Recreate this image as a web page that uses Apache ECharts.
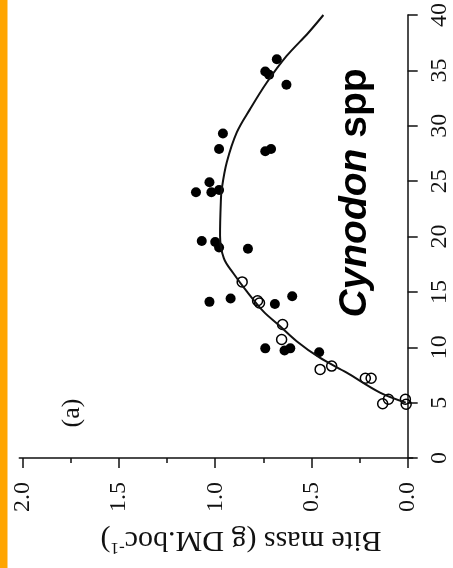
<!DOCTYPE html>
<html>
<head>
<meta charset="utf-8">
<script src="https://cdn.jsdelivr.net/npm/echarts@6/dist/echarts.min.js"></script>
<style>
  html, body { margin: 0; padding: 0; background: #fff; }
  #chart { width: 453px; height: 568px; }
</style>
</head>
<body>
<div id="chart"></div>
<script>
// Bite mass (g DM per bite) against sward height, Cynodon spp, panel (a)
const heightTicks = [0, 5, 10, 15, 20, 25, 30, 35, 40];
const massLabelTicks = [0, 0.5, 1.0, 1.5, 2.0];
const massMinorTicks = [0.25, 0.75, 1.25, 1.75];

// filled circles
const filledHeight = [36.0, 34.9, 34.6, 33.7, 29.3, 27.9, 27.7, 27.9, 24.9, 24.0, 24.0, 24.2,
  19.6, 19.5, 19.0, 18.9, 14.1, 14.4, 13.9, 14.6, 9.9, 9.7, 9.9, 9.55];
const filledMass = [0.68, 0.74, 0.72, 0.63, 0.96, 0.98, 0.74, 0.71, 1.03, 1.10, 1.02, 0.98,
  1.07, 1.00, 0.98, 0.83, 1.03, 0.92, 0.69, 0.60, 0.74, 0.64, 0.61, 0.46];

// open circles
const openHeight = [15.9, 14.2, 14.0, 12.05, 10.7, 8.0, 8.3, 7.2, 7.2, 4.9, 5.3, 5.3, 4.85];
const openMass = [0.86, 0.78, 0.77, 0.65, 0.655, 0.455, 0.395, 0.22, 0.19, 0.13, 0.10, 0.012, 0.008];

// fitted response curve
const curveHeight = [5.0, 5.9, 7.7, 9.1, 10.55, 11.9, 13.24, 15.04, 16.68, 18.02, 20.1, 23.1,
  24.3, 26.7, 29.4, 31.5, 33.9, 36.3, 38.4, 40.0];
const curveMass = [0.01, 0.144, 0.317, 0.461, 0.577, 0.663, 0.75, 0.836, 0.906, 0.955, 0.975, 0.971,
  0.966, 0.94, 0.888, 0.819, 0.732, 0.629, 0.516, 0.438];

const pairs = (xs, ys) => xs.map((x, i) => [x, ys[i]]);

const ink = '#111';
const serif = 'Liberation Serif';

const chart = echarts.init(document.getElementById('chart'), null, { renderer: 'canvas' });

chart.setOption({
  animation: false,
  backgroundColor: '#fff',
  grid: { left: 19.3, right: 40.3, top: 11.5, bottom: 110 },
  xAxis: [
    {
      type: 'value',
      inverse: true,
      min: -0.026,
      max: 2.018,
      position: 'bottom',
      axisLine: { show: true, lineStyle: { color: ink, width: 1.5 } },
      axisTick: { show: true, length: 10, customValues: massLabelTicks, lineStyle: { color: ink, width: 1.5 } },
      axisLabel: {
        customValues: massLabelTicks,
        formatter: v => v.toFixed(1),
        rotate: 90,
        margin: 24,
        fontSize: 24,
        fontFamily: serif,
        color: ink
      },
      splitLine: { show: false }
    },
    {
      type: 'value',
      inverse: true,
      min: -0.026,
      max: 2.018,
      position: 'bottom',
      axisLine: { show: false },
      axisTick: { show: true, length: 5, customValues: massMinorTicks, lineStyle: { color: ink, width: 1.5 } },
      axisLabel: { show: false },
      splitLine: { show: false }
    }
  ],
  yAxis: {
    type: 'value',
    position: 'right',
    min: 0,
    max: 40,
    interval: 5,
    axisLine: { show: true, lineStyle: { color: ink, width: 1.5 } },
    axisTick: { show: true, length: 10, lineStyle: { color: ink, width: 1.5 } },
    axisLabel: {
      rotate: 90,
      margin: 15,
      fontSize: 24,
      fontFamily: serif,
      color: ink,
      formatter: v => (heightTicks.includes(v) ? String(v) : '')
    },
    splitLine: { show: false }
  },
  series: [
    {
      type: 'line',
      data: pairs(curveMass, curveHeight),
      showSymbol: false,
      smooth: 0.35,
      lineStyle: { color: ink, width: 2 },
      z: 3
    },
    {
      type: 'scatter',
      data: pairs(filledMass, filledHeight),
      symbol: 'circle',
      symbolSize: 10,
      itemStyle: { color: '#000', opacity: 1 },
      z: 2
    },
    {
      type: 'scatter',
      data: pairs(openMass, openHeight),
      symbol: 'circle',
      symbolSize: 10,
      itemStyle: { color: 'rgba(255,255,255,0)', borderColor: '#000', borderWidth: 1.5, opacity: 1 },
      z: 2
    }
  ],
  graphic: [
    {
      type: 'rect',
      shape: { x: 0, y: 0, width: 7.5, height: 568 },
      style: { fill: '#ffa500' },
      silent: true
    },
    {
      type: 'text',
      x: 241,
      y: 540,
      rotation: Math.PI,
      style: {
        text: 'Bite mass (g DM.boc{sup|-1})',
        font: '30px "Liberation Serif"',
        fill: ink,
        align: 'center',
        verticalAlign: 'middle',
        textAlign: 'center',
        textVerticalAlign: 'middle',
        rich: {
          sup: { font: '17px "Liberation Serif"', fill: ink, verticalAlign: 'top', lineHeight: 32 }
        }
      }
    },
    {
      type: 'text',
      x: 72,
      y: 413,
      rotation: Math.PI / 2,
      style: {
        text: '(a)',
        font: '26px "Liberation Serif"',
        fill: ink,
        align: 'center',
        verticalAlign: 'middle',
        textAlign: 'center',
        textVerticalAlign: 'middle'
      }
    },
    {
      type: 'text',
      x: 355,
      y: 193,
      rotation: Math.PI / 2,
      style: {
        text: '{i|Cynodon} {b|spp}',
        font: 'bold 39px "Liberation Sans"',
        fill: '#000',
        align: 'center',
        verticalAlign: 'middle',
        textAlign: 'center',
        textVerticalAlign: 'middle',
        rich: {
          i: { font: 'italic bold 39px "Liberation Sans"', fill: '#000' },
          b: { font: 'bold 39px "Liberation Sans"', fill: '#000' }
        }
      }
    }
  ]
});
</script>
</body>
</html>
